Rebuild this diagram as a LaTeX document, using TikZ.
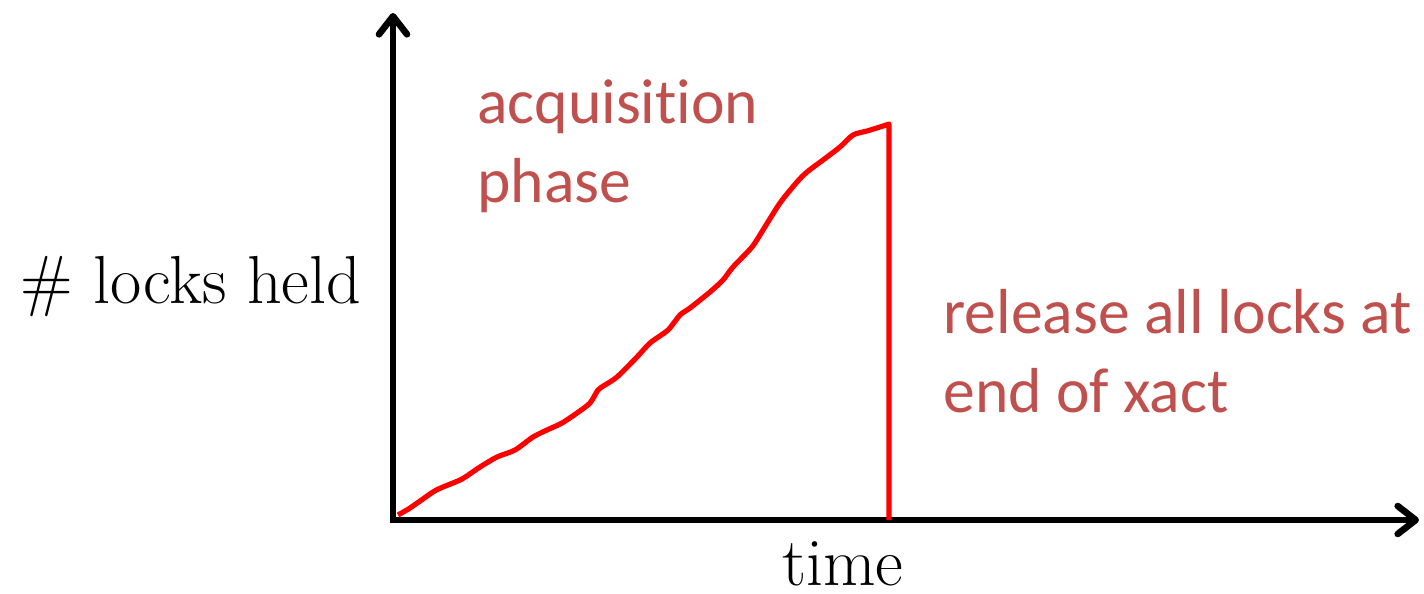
\documentclass[tikz,border=0pt]{standalone}
\usepackage{fontspec}
\newfontfamily\calibri[Ligatures=NoCommon]{Carlito}
\usetikzlibrary{arrows.meta}
\definecolor{rougetexte}{HTML}{C0504D}
\tikzset{
    axe/.style={line width=3.3pt,-{Straight Barb[round,length=9pt,width=14pt]}},
    courbe/.style={red,line width=2.6pt,line join=round},
    legende/.style={rougetexte,font=\calibri\fontsize{31.8}{39.5}\selectfont,align=left,inner sep=0pt,anchor=base west},
    etiquette/.style={font=\fontsize{34}{40}\selectfont,inner sep=0pt}
}
\begin{document}
\begin{tikzpicture}[x=0.5pt,y=-0.5pt]
                \useasboundingbox (0,0) rectangle (1424,594);

                % Les axes
                \coordinate (origine) at (393,523);
                \coordinate (coin) at (390,520);
                \coordinate (haut) at (393,13);
                \coordinate (droite) at (1419,520);
                \draw[axe] (origine) -- (haut);
                \draw[axe] (coin) -- (droite);

                % La courbe des verrous
                \coordinate (sommet) at (889,124);
                \coordinate (chute) at (889,520);
                \draw[courbe] plot[smooth,tension=0.45] coordinates {
                    (398,515) (410,508) (433,492) (443,487) (462,479) (480,467)
                    (497,457) (515,450) (533,437) (547,430) (562,423) (577,413)
                    (590,403) (598,390) (605,385) (617,377) (637,357) (650,343)
                    (668,330) (680,315) (690,308) (710,292) (723,280) (733,267)
                    (752,247) (763,230) (780,203) (797,182) (807,172) (823,160)
                    (840,147) (853,135) (867,131) (880,127) (889,124)}
                    -- (chute);

                % Les textes (ancre sur la derniere ligne)
                \node[etiquette,anchor=base west] (verrous) at (20,303) {\# locks held};
                \node[etiquette,anchor=base] (temps) at (843,585) {time};
                \node[legende] (acquisition) at (477,202) {acquisition\\phase};
                \node[legende] (liberation) at (943,412) {release all locks at\\end of xact};
\end{tikzpicture}
\end{document}
